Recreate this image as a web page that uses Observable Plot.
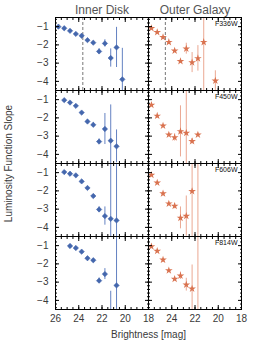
<!DOCTYPE html>
<html><head><meta charset="utf-8">
<script src="https://cdn.jsdelivr.net/npm/d3@7"></script>
<script src="https://cdn.jsdelivr.net/npm/@observablehq/plot@0.6"></script>
<style>body{margin:0;background:#fff}#c{width:258px;height:343px}</style>
</head><body><div id="c"></div>
<script>
const regions = ["Inner Disk", "Outer Galaxy"];
const filters = ["F336W", "F450W", "F606W", "F814W"];
const xTicks = [26, 24, 22, 20, 18];
const yTicks = [-1, -2, -3, -4];
const xTickLabelsInner = [26, 24, 22, 20, 18];
const xTickLabelsOuter = [24, 22, 20, 18];

// Inner Disk
const innerF336WMag   = [25.75, 25.25, 24.75, 24.25, 23.75, 23.25, 22.75, 22.25, 21.75, 21.25, 20.75, 20.25];
const innerF336WSlope = [-1.00, -1.09, -1.23, -1.40, -1.50, -1.74, -1.88, -2.36, -1.92, -2.72, -2.14, -3.89];
const innerF336WErr   = [0.03, 0.03, 0.03, 0.03, 0.04, 0.05, 0.06, 0.15, 0.2, 0.5, 1.1, 1.7];

const innerF450WMag   = [25.25, 24.75, 24.25, 23.75, 23.25, 22.75, 22.25, 21.75, 21.25, 20.75];
const innerF450WSlope = [-1.03, -1.16, -1.34, -1.71, -2.20, -2.38, -3.30, -2.61, -3.25, -3.56];
const innerF450WErr   = [0.03, 0.04, 0.05, 0.05, 0.08, 0.12, 0.15, 0.85, 1.96, 0.9];

const innerF606WMag   = [25.25, 24.75, 24.25, 23.75, 23.25, 22.75, 22.25, 21.75, 21.25, 20.75];
const innerF606WSlope = [-0.97, -1.06, -1.15, -1.48, -1.84, -2.28, -3.02, -3.38, -3.53, -3.62];
const innerF606WErr   = [0.03, 0.03, 0.04, 0.05, 0.06, 0.07, 0.15, 0.5, 4, 4];

const innerF814WMag   = [24.75, 24.25, 23.75, 23.25, 22.75, 22.25, 21.75, 21.25, 20.75];
const innerF814WSlope = [-1.02, -1.13, -1.33, -1.69, -1.80, -2.92, -2.56, -5.5, -3.18];
const innerF814WErr   = [0.03, 0.04, 0.05, 0.06, 0.07, 0.15, 0.3, 2.0, 4];

// Outer Galaxy
const outerF336WMag   = [25.75, 25.25, 24.75, 24.25, 23.75, 23.25, 22.75, 22.25, 21.75, 21.25, 20.25];
const outerF336WSlope = [-1.09, -1.31, -1.58, -1.85, -2.32, -2.90, -2.21, -2.97, -2.74, -1.85, -3.97];
const outerF336WErr   = [0.03, 0.04, 0.04, 0.05, 0.06, 0.08, 0.3, 0.55, 0.7, 4, 0.55];

const outerF450WMag   = [25.75, 25.25, 24.75, 24.25, 23.75, 23.25, 22.75, 22.25, 21.75];
const outerF450WSlope = [-1.29, -1.89, -2.43, -2.92, -3.07, -2.74, -2.83, -3.28, -2.92];
const outerF450WErr   = [0.05, 0.05, 0.06, 0.08, 0.2, 1.4, 4, 0.15, 0.08];

const outerF606WMag   = [25.75, 25.25, 24.75, 24.25, 23.75, 23.25, 22.75, 22.25, 21.75];
const outerF606WSlope = [-1.13, -1.55, -2.15, -2.70, -2.83, -3.48, -3.38, -2.02, -6.0];
const outerF606WErr   = [0.04, 0.05, 0.06, 0.08, 0.15, 0.6, 1.1, 4, 6];

const outerF814WMag   = [25.75, 25.25, 24.75, 24.25, 23.75, 23.25, 22.75, 22.25, 21.75];
const outerF814WSlope = [-1.05, -1.29, -1.78, -2.36, -2.83, -2.65, -3.14, -3.36, -6.0];
const outerF814WErr   = [0.03, 0.04, 0.05, 0.06, 0.1, 0.2, 0.35, 1.3, 6];

// completeness limits (dashed lines)
const cutRegion = ["Inner Disk", "Outer Galaxy"];
const cutFilter = ["F336W", "F336W"];
const cutMag = [23.65, 24.55];

const panels = [
  ["Inner Disk", "F336W", innerF336WMag, innerF336WSlope, innerF336WErr],
  ["Inner Disk", "F450W", innerF450WMag, innerF450WSlope, innerF450WErr],
  ["Inner Disk", "F606W", innerF606WMag, innerF606WSlope, innerF606WErr],
  ["Inner Disk", "F814W", innerF814WMag, innerF814WSlope, innerF814WErr],
  ["Outer Galaxy", "F336W", outerF336WMag, outerF336WSlope, outerF336WErr],
  ["Outer Galaxy", "F450W", outerF450WMag, outerF450WSlope, outerF450WErr],
  ["Outer Galaxy", "F606W", outerF606WMag, outerF606WSlope, outerF606WErr],
  ["Outer Galaxy", "F814W", outerF814WMag, outerF814WSlope, outerF814WErr]
];
const rows = panels.flatMap(([region, filter, mag, slope, err]) =>
  mag.map((m, i) => ({region, filter, mag: m, slope: slope[i], err: err[i]})));
const inner = rows.filter(d => d.region === "Inner Disk");
const outer = rows.filter(d => d.region === "Outer Galaxy");
const cuts = cutMag.map((m, i) => ({region: cutRegion[i], filter: cutFilter[i], mag: m}));
const xLabelRows = [
  ...xTickLabelsInner.map(v => ({region: "Inner Disk", filter: "F814W", v})),
  ...xTickLabelsOuter.map(v => ({region: "Outer Galaxy", filter: "F814W", v}))
];
const xMinor = d3.range(18, 26.01, 0.5);
const yMinor = d3.range(-4.4, -0.55, 0.2);

const tickOpts = {facetAnchor: null, fill: "none", label: null, stroke: "#000"};

const chart = Plot.plot({
  width: 258, height: 343,
  marginLeft: 54, marginRight: 17, marginTop: 16, marginBottom: 33,
  style: {fontFamily: "'Liberation Sans', Arial, sans-serif", fontSize: "10px", color: "#3a3a3a", background: "#fff"},
  x: {domain: [26, 18]},
  y: {domain: [-4.5, -0.5]},
  fx: {domain: regions, padding: 0},
  fy: {domain: filters, padding: 0, axis: null},
  marks: [
    Plot.ruleX(cuts, {x: "mag", fx: "region", fy: "filter", stroke: "#777", strokeDasharray: "3,2"}),
    Plot.ruleX(inner, {x: "mag", y1: d => d.slope - d.err, y2: d => d.slope + d.err, fx: "region", fy: "filter", stroke: "#6482c2", strokeWidth: 1, clip: true}),
    Plot.dot(inner, {x: "mag", y: "slope", fx: "region", fy: "filter", symbol: "diamond2", r: 2.4, fill: "#4467ad", stroke: "#4467ad", strokeWidth: 0.6, clip: true}),
    Plot.ruleX(outer, {x: "mag", y1: d => d.slope - d.err, y2: d => d.slope + d.err, fx: "region", fy: "filter", stroke: "#eba892", strokeWidth: 1, clip: true}),
    Plot.dot(outer, {x: "mag", y: "slope", fx: "region", fy: "filter", symbol: "star", r: 2.4, fill: "#d9724f", clip: true}),
    Plot.frame({stroke: "#000"}),
    Plot.axisX(xTicks, {...tickOpts, anchor: "bottom", tickSize: -4}),
    Plot.axisX(xMinor, {...tickOpts, anchor: "bottom", tickSize: -2}),
    Plot.axisX(xTicks, {...tickOpts, anchor: "top", tickSize: -4}),
    Plot.axisX(xMinor, {...tickOpts, anchor: "top", tickSize: -2}),
    Plot.axisY(yTicks, {...tickOpts, anchor: "left", tickSize: -4}),
    Plot.axisY(yMinor, {...tickOpts, anchor: "left", tickSize: -2}),
    Plot.axisY(yTicks, {...tickOpts, anchor: "right", tickSize: -4}),
    Plot.axisY(yMinor, {...tickOpts, anchor: "right", tickSize: -2}),
    Plot.axisY(yTicks, {anchor: "left", tickSize: 0, tickPadding: 7, fontSize: 10, label: "Luminosity Function Slope", labelAnchor: "center", labelArrow: "none", labelOffset: 51}),
    Plot.text(xLabelRows, {x: "v", fx: "region", fy: "filter", text: d => String(d.v), frameAnchor: "bottom", dy: 5, lineAnchor: "top", fontSize: 10}),
    Plot.axisX([], {anchor: "bottom", tickSize: 0, label: "Brightness [mag]", labelAnchor: "center", labelArrow: "none", labelOffset: 28, dx: -9, fontSize: 10}),
    Plot.axisFx({anchor: "top", tickSize: 0, tickPadding: 4, fontSize: 12, label: null, fill: "#555"}),
    Plot.text(filters, {fx: () => "Outer Galaxy", fy: d => d, text: d => d, frameAnchor: "top-right", dx: -4, dy: 4, lineAnchor: "top", fontSize: 7, fill: "#111"})
  ]
});
document.getElementById("c").appendChild(chart);
</script>
</body></html>
